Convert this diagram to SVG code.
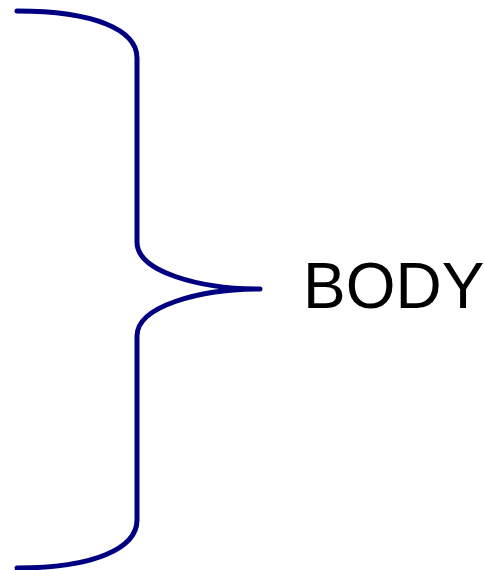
<svg xmlns="http://www.w3.org/2000/svg" width="484" height="570" viewBox="0 0 484 570">
<style>
.brace{fill:none;stroke:#000080;stroke-width:5;stroke-linecap:round;stroke-linejoin:round}
.lbl{font-family:"Liberation Sans",Arial,sans-serif;font-size:64px;fill:#000}
</style>
<rect width="484" height="570" fill="#fff"/>
<g id="connectors">
<path class="brace" d="M17,11 C95,11 137,30 137,58 L137,242 C137,272 200,289 260,289 C200,289 137,306 137,336 L137,520 C137,548 95,568 17,568"/>
</g>
<g id="body">
<text class="lbl" x="303" y="308">BODY</text>
</g>
</svg>
